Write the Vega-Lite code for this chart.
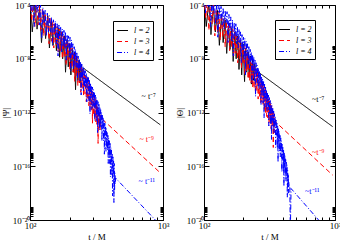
{
"$schema":"https://vega.github.io/schema/vega-lite/v6.json",
"padding":{"left":0,"top":0,"right":0,"bottom":0},
"spacing":4,
"datasets":{
"psi":[
{"l":2,"t":100,"y":2.5e-4},{"l":2,"t":104,"y":1e-6},{"l":2,"t":109,"y":1.3e-4},{"l":2,"t":113,"y":1.6e-6},{"l":2,"t":118,"y":6.3e-5},{"l":2,"t":122,"y":1.6e-7},{"l":2,"t":127,"y":3.2e-5},{"l":2,"t":131,"y":3.2e-7},{"l":2,"t":136,"y":1.6e-5},{"l":2,"t":140,"y":6.3e-8},{"l":2,"t":145,"y":7.9e-6},{"l":2,"t":149,"y":1e-7},{"l":2,"t":154,"y":4e-6},{"l":2,"t":158,"y":4e-8},{"l":2,"t":163,"y":2e-6},{"l":2,"t":167,"y":1.3e-8},{"l":2,"t":172,"y":1e-6},{"l":2,"t":176,"y":1e-8},{"l":2,"t":181,"y":5e-7},{"l":2,"t":185,"y":1e-9},{"l":2,"t":190,"y":2.5e-7},{"l":2,"t":194,"y":2.5e-9},{"l":2,"t":199,"y":1.3e-7},{"l":2,"t":203,"y":6.3e-10},{"l":2,"t":208,"y":6.3e-8},{"l":2,"t":212,"y":1e-9},{"l":2,"t":216,"y":3.2e-8},{"l":2,"t":220,"y":5e-11},{"l":2,"t":224,"y":1.6e-8},{"l":2,"t":229,"y":2.5e-10},{"l":2,"t":234,"y":7.9e-9},{"l":2,"t":238,"y":1.6e-10},{"l":2,"t":243,"y":4e-9},{"l":2,"t":247,"y":3.2e-10},{"l":2,"t":252,"y":2e-9},{"l":2,"t":955,"y":1.2e-13},
{"l":3,"t":100,"y":3.2e-4},{"l":3,"t":103,"y":6.3e-6},{"l":3,"t":106,"y":2e-4},{"l":3,"t":109,"y":2.5e-6},{"l":3,"t":112,"y":1.3e-4},{"l":3,"t":115,"y":3.2e-6},{"l":3,"t":118,"y":7.9e-5},{"l":3,"t":121,"y":1e-6},{"l":3,"t":124,"y":5e-5},{"l":3,"t":127,"y":5e-7},{"l":3,"t":130,"y":2.5e-5},{"l":3,"t":133,"y":6.3e-7},{"l":3,"t":136,"y":1.6e-5},{"l":3,"t":139,"y":1.3e-7},{"l":3,"t":142,"y":1e-5},{"l":3,"t":145,"y":2e-7},{"l":3,"t":148,"y":6.3e-6},{"l":3,"t":151,"y":6.3e-8},{"l":3,"t":154,"y":4e-6},{"l":3,"t":157,"y":1e-7},{"l":3,"t":160,"y":2.5e-6},{"l":3,"t":163,"y":3.2e-8},{"l":3,"t":166,"y":1.6e-6},{"l":3,"t":169,"y":4e-8},{"l":3,"t":172,"y":1e-6},{"l":3,"t":175,"y":1e-8},{"l":3,"t":178,"y":6.3e-7},{"l":3,"t":181,"y":1.3e-8},{"l":3,"t":184,"y":4e-7},{"l":3,"t":187,"y":3.2e-9},{"l":3,"t":190,"y":2.5e-7},{"l":3,"t":193,"y":7.9e-9},{"l":3,"t":196,"y":1.6e-7},{"l":3,"t":199,"y":1.6e-9},{"l":3,"t":202,"y":1e-7},{"l":3,"t":205,"y":2e-9},{"l":3,"t":208,"y":6.3e-8},{"l":3,"t":211,"y":1e-9},{"l":3,"t":214,"y":3.2e-8},{"l":3,"t":217,"y":2e-10},{"l":3,"t":220,"y":2e-8},{"l":3,"t":223,"y":5e-10},{"l":3,"t":226,"y":1.3e-8},{"l":3,"t":229,"y":1e-10},{"l":3,"t":232,"y":6.3e-9},{"l":3,"t":235,"y":1.6e-10},{"l":3,"t":238,"y":4e-9},{"l":3,"t":241,"y":3.2e-11},{"l":3,"t":244,"y":2.5e-9},{"l":3,"t":247,"y":6.3e-11},{"l":3,"t":250,"y":1.6e-9},{"l":3,"t":253,"y":1.6e-11},{"l":3,"t":256,"y":1e-9},{"l":3,"t":259,"y":2.5e-11},{"l":3,"t":262,"y":6.3e-10},{"l":3,"t":265,"y":6.3e-12},{"l":3,"t":268,"y":4e-10},{"l":3,"t":271,"y":1e-11},{"l":3,"t":274,"y":2.5e-10},{"l":3,"t":277,"y":3.2e-12},{"l":3,"t":280,"y":1.3e-10},{"l":3,"t":283,"y":2.5e-12},{"l":3,"t":286,"y":7.9e-11},{"l":3,"t":289,"y":1.6e-12},{"l":3,"t":292,"y":5e-11},{"l":3,"t":295,"y":1.6e-13},{"l":3,"t":298,"y":3.2e-11},{"l":3,"t":301,"y":6.3e-13},{"l":3,"t":304,"y":1.6e-11},{"l":3,"t":307,"y":3.2e-13},{"l":3,"t":310,"y":1e-11},{"l":3,"t":313,"y":2e-13},{"l":3,"t":316,"y":5e-12},{"l":3,"t":319,"y":1.3e-13},{"l":3,"t":322,"y":3.2e-12},{"l":3,"t":325,"y":5e-15},{"l":3,"t":328,"y":1.6e-12},{"l":3,"t":331,"y":1e-13},{"l":3,"t":334,"y":1e-12},{"l":3,"t":337,"y":5e-14},{"l":3,"t":340,"y":6.3e-13},{"l":3,"t":344,"y":3.7e-13},{"l":3,"t":955,"y":3.2e-17},
{"l":4,"t":100,"y":5e-4},{"l":4,"t":102.5,"y":2.5e-5},{"l":4,"t":105,"y":3.2e-4},{"l":4,"t":107.5,"y":2.5e-6},{"l":4,"t":110,"y":2e-4},{"l":4,"t":112.5,"y":2.5e-5},{"l":4,"t":115,"y":1.6e-4},{"l":4,"t":117.5,"y":3.2e-6},{"l":4,"t":120,"y":1e-4},{"l":4,"t":122.5,"y":3.2e-7},{"l":4,"t":125,"y":6.3e-5},{"l":4,"t":127.5,"y":5e-6},{"l":4,"t":130,"y":4e-5},{"l":4,"t":132.5,"y":5e-7},{"l":4,"t":135,"y":2.5e-5},{"l":4,"t":137.5,"y":1e-6},{"l":4,"t":140,"y":1.6e-5},{"l":4,"t":142.5,"y":1e-6},{"l":4,"t":145,"y":1.3e-5},{"l":4,"t":147.5,"y":1e-7},{"l":4,"t":150,"y":7.9e-6},{"l":4,"t":152.5,"y":7.9e-7},{"l":4,"t":155,"y":6.3e-6},{"l":4,"t":157.5,"y":1.3e-7},{"l":4,"t":160,"y":4e-6},{"l":4,"t":162.5,"y":1.6e-8},{"l":4,"t":165,"y":3.2e-6},{"l":4,"t":167.5,"y":3.2e-7},{"l":4,"t":170,"y":2.5e-6},{"l":4,"t":172.5,"y":3.2e-8},{"l":4,"t":175,"y":1.6e-6},{"l":4,"t":177.5,"y":7.9e-8},{"l":4,"t":180,"y":1.3e-6},{"l":4,"t":182.5,"y":6.3e-8},{"l":4,"t":185,"y":1e-6},{"l":4,"t":187.5,"y":7.9e-9},{"l":4,"t":190,"y":6.3e-7},{"l":4,"t":192.5,"y":7.9e-8},{"l":4,"t":195,"y":5e-7},{"l":4,"t":197.5,"y":1.3e-8},{"l":4,"t":200,"y":4e-7},{"l":4,"t":202.5,"y":1.3e-9},{"l":4,"t":205,"y":2.5e-7},{"l":4,"t":207.5,"y":2e-8},{"l":4,"t":210,"y":1.3e-7},{"l":4,"t":212.5,"y":1.6e-9},{"l":4,"t":215,"y":7.9e-8},{"l":4,"t":217.5,"y":3.2e-9},{"l":4,"t":220,"y":5e-8},{"l":4,"t":222.5,"y":2.5e-9},{"l":4,"t":225,"y":3.2e-8},{"l":4,"t":227.5,"y":2.5e-10},{"l":4,"t":230,"y":1.6e-8},{"l":4,"t":232.5,"y":1.6e-9},{"l":4,"t":235,"y":1e-8},{"l":4,"t":237.5,"y":2e-10},{"l":4,"t":240,"y":6.3e-9},{"l":4,"t":242.5,"y":2e-11},{"l":4,"t":245,"y":4e-9},{"l":4,"t":247.5,"y":3.2e-10},{"l":4,"t":250,"y":2.5e-9},{"l":4,"t":252.5,"y":4e-11},{"l":4,"t":255,"y":2e-9},{"l":4,"t":257.5,"y":7.9e-11},{"l":4,"t":260,"y":1.3e-9},{"l":4,"t":262.5,"y":6.3e-11},{"l":4,"t":265,"y":7.9e-10},{"l":4,"t":267.5,"y":6.3e-12},{"l":4,"t":270,"y":5e-10},{"l":4,"t":272.5,"y":6.3e-11},{"l":4,"t":275,"y":4e-10},{"l":4,"t":277.5,"y":7.9e-12},{"l":4,"t":280,"y":2.5e-10},{"l":4,"t":282.5,"y":7.9e-13},{"l":4,"t":285,"y":1.6e-10},{"l":4,"t":287.5,"y":1.3e-11},{"l":4,"t":290,"y":1e-10},{"l":4,"t":292.5,"y":1.6e-12},{"l":4,"t":295,"y":7.9e-11},{"l":4,"t":297.5,"y":3.2e-12},{"l":4,"t":300,"y":5e-11},{"l":4,"t":302.5,"y":2.5e-12},{"l":4,"t":305,"y":3.2e-11},{"l":4,"t":307.5,"y":2.5e-13},{"l":4,"t":310,"y":2e-11},{"l":4,"t":312.5,"y":2e-12},{"l":4,"t":315,"y":1.3e-11},{"l":4,"t":317.5,"y":2.5e-13},{"l":4,"t":320,"y":7.9e-12},{"l":4,"t":322.5,"y":3.2e-14},{"l":4,"t":325,"y":6.3e-12},{"l":4,"t":327.5,"y":5e-13},{"l":4,"t":330,"y":4e-12},{"l":4,"t":332.5,"y":5e-14},{"l":4,"t":335,"y":2.5e-12},{"l":4,"t":337.5,"y":1e-13},{"l":4,"t":340,"y":1.6e-12},{"l":4,"t":342.5,"y":7.9e-14},{"l":4,"t":345,"y":1e-12},{"l":4,"t":347.5,"y":7.9e-15},{"l":4,"t":350,"y":6.3e-13},{"l":4,"t":352.5,"y":6.3e-14},{"l":4,"t":355,"y":4e-13},{"l":4,"t":357.5,"y":7.9e-15},{"l":4,"t":360,"y":2.5e-13},{"l":4,"t":362.5,"y":7.9e-16},{"l":4,"t":365,"y":1.6e-13},{"l":4,"t":367.5,"y":1.3e-14},{"l":4,"t":370,"y":1e-13},{"l":4,"t":372.5,"y":1.3e-15},{"l":4,"t":375,"y":6.3e-14},{"l":4,"t":377.5,"y":2.5e-15},{"l":4,"t":380,"y":3.2e-14},{"l":4,"t":382.5,"y":1.6e-15},{"l":4,"t":385,"y":2e-14},{"l":4,"t":387.5,"y":1.6e-16},{"l":4,"t":390,"y":1.3e-14},{"l":4,"t":392.5,"y":1.3e-15},{"l":4,"t":395,"y":7.9e-15},{"l":4,"t":397.5,"y":1.6e-16},{"l":4,"t":400,"y":5e-15},{"l":4,"t":402.5,"y":1.6e-17},{"l":4,"t":405,"y":2.5e-15},{"l":4,"t":407.5,"y":2e-16},{"l":4,"t":410,"y":1.6e-15},{"l":4,"t":412.5,"y":2e-17},{"l":4,"t":415,"y":7.9e-16},{"l":4,"t":417.5,"y":6.3e-19},{"l":4,"t":420,"y":5e-16},{"l":4,"t":422.5,"y":2.5e-17},{"l":4,"t":425,"y":2.5e-16},{"l":4,"t":427.5,"y":2e-19},{"l":4,"t":430,"y":1.6e-16},{"l":4,"t":432.5,"y":1.6e-18},{"l":4,"t":435,"y":3.2e-17},{"l":4,"t":438,"y":5e-18},{"l":4,"t":441,"y":1.3e-17},{"l":4,"t":1000,"y":2.5e-21}
],
"psiTxt":[{"l":2,"t":690,"y":1.45e-11,"s":"~ t⁻⁷"},{"l":3,"t":665,"y":9e-15,"s":"~ t⁻⁹"},{"l":4,"t":655,"y":6.8e-18,"s":"~ t⁻¹¹"}],
"theta":[
{"l":2,"t":100,"y":3.2e-4},{"l":2,"t":104,"y":2.5e-6},{"l":2,"t":109,"y":1.6e-4},{"l":2,"t":113,"y":6.3e-7},{"l":2,"t":118,"y":7.9e-5},{"l":2,"t":122,"y":1e-6},{"l":2,"t":127,"y":4e-5},{"l":2,"t":131,"y":1e-7},{"l":2,"t":136,"y":1.6e-5},{"l":2,"t":140,"y":1.6e-7},{"l":2,"t":145,"y":7.9e-6},{"l":2,"t":149,"y":2.5e-8},{"l":2,"t":154,"y":4e-6},{"l":2,"t":158,"y":5e-8},{"l":2,"t":163,"y":2e-6},{"l":2,"t":167,"y":6.3e-9},{"l":2,"t":172,"y":1e-6},{"l":2,"t":176,"y":1e-8},{"l":2,"t":181,"y":5e-7},{"l":2,"t":185,"y":1.6e-9},{"l":2,"t":190,"y":2.5e-7},{"l":2,"t":194,"y":6.3e-10},{"l":2,"t":199,"y":1.3e-7},{"l":2,"t":204,"y":2e-10},{"l":2,"t":208,"y":6.3e-8},{"l":2,"t":212,"y":1e-9},{"l":2,"t":217,"y":3.2e-8},{"l":2,"t":221,"y":4e-10},{"l":2,"t":226,"y":1.6e-8},{"l":2,"t":230,"y":1.3e-10},{"l":2,"t":235,"y":7.9e-9},{"l":2,"t":239,"y":2.5e-10},{"l":2,"t":244,"y":4e-9},{"l":2,"t":247,"y":1.45e-9},{"l":2,"t":959,"y":8.9e-14},
{"l":3,"t":100,"y":4e-4},{"l":3,"t":103,"y":1e-5},{"l":3,"t":106,"y":2.5e-4},{"l":3,"t":109,"y":1.3e-6},{"l":3,"t":112,"y":1.6e-4},{"l":3,"t":115,"y":4e-6},{"l":3,"t":118,"y":1e-4},{"l":3,"t":121,"y":5e-7},{"l":3,"t":124,"y":5e-5},{"l":3,"t":127,"y":1e-6},{"l":3,"t":130,"y":3.2e-5},{"l":3,"t":133,"y":2.5e-7},{"l":3,"t":136,"y":2e-5},{"l":3,"t":139,"y":4e-7},{"l":3,"t":142,"y":1e-5},{"l":3,"t":145,"y":7.9e-8},{"l":3,"t":148,"y":6.3e-6},{"l":3,"t":151,"y":1.6e-7},{"l":3,"t":154,"y":4e-6},{"l":3,"t":157,"y":4e-8},{"l":3,"t":160,"y":2.5e-6},{"l":3,"t":163,"y":6.3e-8},{"l":3,"t":166,"y":1.6e-6},{"l":3,"t":169,"y":1.6e-8},{"l":3,"t":172,"y":1e-6},{"l":3,"t":175,"y":2.5e-8},{"l":3,"t":178,"y":6.3e-7},{"l":3,"t":181,"y":5e-9},{"l":3,"t":184,"y":4e-7},{"l":3,"t":187,"y":1e-8},{"l":3,"t":190,"y":2.5e-7},{"l":3,"t":193,"y":2e-9},{"l":3,"t":196,"y":1.6e-7},{"l":3,"t":199,"y":4e-9},{"l":3,"t":202,"y":1e-7},{"l":3,"t":205,"y":6.3e-10},{"l":3,"t":208,"y":6.3e-8},{"l":3,"t":211,"y":1.3e-9},{"l":3,"t":214,"y":3.2e-8},{"l":3,"t":217,"y":3.2e-10},{"l":3,"t":220,"y":2e-8},{"l":3,"t":223,"y":2.5e-10},{"l":3,"t":226,"y":1.3e-8},{"l":3,"t":229,"y":1.6e-10},{"l":3,"t":232,"y":6.3e-9},{"l":3,"t":235,"y":7.9e-11},{"l":3,"t":238,"y":4e-9},{"l":3,"t":241,"y":6.3e-11},{"l":3,"t":244,"y":2.5e-9},{"l":3,"t":247,"y":2.5e-11},{"l":3,"t":250,"y":1.6e-9},{"l":3,"t":253,"y":4e-11},{"l":3,"t":256,"y":1e-9},{"l":3,"t":259,"y":1e-11},{"l":3,"t":262,"y":6.3e-10},{"l":3,"t":265,"y":1.6e-11},{"l":3,"t":268,"y":4e-10},{"l":3,"t":271,"y":5e-12},{"l":3,"t":274,"y":2.5e-10},{"l":3,"t":277,"y":6.3e-12},{"l":3,"t":280,"y":1.6e-10},{"l":3,"t":283,"y":4e-12},{"l":3,"t":286,"y":1e-10},{"l":3,"t":289,"y":1.3e-12},{"l":3,"t":292,"y":6.3e-11},{"l":3,"t":295,"y":1e-12},{"l":3,"t":298,"y":4e-11},{"l":3,"t":301,"y":5e-13},{"l":3,"t":304,"y":2.5e-11},{"l":3,"t":307,"y":4e-13},{"l":3,"t":310,"y":1.3e-11},{"l":3,"t":313,"y":1.6e-13},{"l":3,"t":316,"y":7.9e-12},{"l":3,"t":319,"y":2e-13},{"l":3,"t":322,"y":5e-12},{"l":3,"t":325,"y":6.3e-14},{"l":3,"t":328,"y":3.2e-12},{"l":3,"t":331,"y":1e-13},{"l":3,"t":334,"y":1.6e-12},{"l":3,"t":338,"y":2.5e-15},{"l":3,"t":341,"y":1e-12},{"l":3,"t":344,"y":3.2e-14},{"l":3,"t":347,"y":3.5e-13},{"l":3,"t":350,"y":2.1e-13},{"l":3,"t":959,"y":2.2e-17},
{"l":4,"t":100,"y":1e-3},{"l":4,"t":102.5,"y":2.5e-5},{"l":4,"t":105,"y":6.3e-4},{"l":4,"t":107.5,"y":7.9e-5},{"l":4,"t":110,"y":5e-4},{"l":4,"t":112.5,"y":2.5e-6},{"l":4,"t":115,"y":3.2e-4},{"l":4,"t":117.5,"y":2.5e-5},{"l":4,"t":120,"y":2.5e-4},{"l":4,"t":122.5,"y":4e-6},{"l":4,"t":125,"y":1.6e-4},{"l":4,"t":127.5,"y":4e-7},{"l":4,"t":130,"y":1.3e-4},{"l":4,"t":132.5,"y":1e-5},{"l":4,"t":135,"y":7.9e-5},{"l":4,"t":137.5,"y":3.2e-6},{"l":4,"t":140,"y":6.3e-5},{"l":4,"t":142.5,"y":1.6e-6},{"l":4,"t":145,"y":4e-5},{"l":4,"t":147.5,"y":5e-6},{"l":4,"t":150,"y":3.2e-5},{"l":4,"t":152.5,"y":1.6e-7},{"l":4,"t":155,"y":2e-5},{"l":4,"t":157.5,"y":1.3e-6},{"l":4,"t":160,"y":1.3e-5},{"l":4,"t":162.5,"y":2e-7},{"l":4,"t":165,"y":7.9e-6},{"l":4,"t":167.5,"y":1.6e-8},{"l":4,"t":170,"y":5e-6},{"l":4,"t":172.5,"y":5e-7},{"l":4,"t":175,"y":4e-6},{"l":4,"t":177.5,"y":1.3e-7},{"l":4,"t":180,"y":2.5e-6},{"l":4,"t":182.5,"y":6.3e-8},{"l":4,"t":185,"y":1.6e-6},{"l":4,"t":187.5,"y":1.6e-7},{"l":4,"t":190,"y":1e-6},{"l":4,"t":192.5,"y":5e-9},{"l":4,"t":195,"y":6.3e-7},{"l":4,"t":197.5,"y":4e-8},{"l":4,"t":200,"y":4e-7},{"l":4,"t":202.5,"y":7.9e-9},{"l":4,"t":205,"y":3.2e-7},{"l":4,"t":207.5,"y":6.3e-10},{"l":4,"t":210,"y":2e-7},{"l":4,"t":212.5,"y":1.6e-8},{"l":4,"t":215,"y":1.3e-7},{"l":4,"t":217.5,"y":4e-9},{"l":4,"t":220,"y":7.9e-8},{"l":4,"t":222.5,"y":2e-9},{"l":4,"t":225,"y":5e-8},{"l":4,"t":227.5,"y":5e-9},{"l":4,"t":230,"y":3.2e-8},{"l":4,"t":232.5,"y":1.6e-10},{"l":4,"t":235,"y":2e-8},{"l":4,"t":237.5,"y":1.3e-9},{"l":4,"t":240,"y":1.3e-8},{"l":4,"t":242.5,"y":2e-10},{"l":4,"t":245,"y":7.9e-9},{"l":4,"t":247.5,"y":1.6e-11},{"l":4,"t":250,"y":5e-9},{"l":4,"t":252.5,"y":4e-10},{"l":4,"t":255,"y":3.2e-9},{"l":4,"t":257.5,"y":1e-10},{"l":4,"t":260,"y":2e-9},{"l":4,"t":262.5,"y":5e-11},{"l":4,"t":265,"y":1.3e-9},{"l":4,"t":267.5,"y":1.3e-10},{"l":4,"t":270,"y":7.9e-10},{"l":4,"t":272.5,"y":4e-12},{"l":4,"t":275,"y":5e-10},{"l":4,"t":277.5,"y":3.2e-11},{"l":4,"t":280,"y":3.2e-10},{"l":4,"t":282.5,"y":5e-12},{"l":4,"t":285,"y":2e-10},{"l":4,"t":287.5,"y":4e-13},{"l":4,"t":290,"y":1.3e-10},{"l":4,"t":292.5,"y":1e-11},{"l":4,"t":295,"y":7.9e-11},{"l":4,"t":297.5,"y":2.5e-12},{"l":4,"t":300,"y":5e-11},{"l":4,"t":302.5,"y":1.3e-12},{"l":4,"t":305,"y":3.2e-11},{"l":4,"t":307.5,"y":3.2e-12},{"l":4,"t":310,"y":2e-11},{"l":4,"t":312.5,"y":1e-13},{"l":4,"t":315,"y":1.3e-11},{"l":4,"t":317.5,"y":7.9e-13},{"l":4,"t":320,"y":7.9e-12},{"l":4,"t":322.5,"y":1.3e-13},{"l":4,"t":325,"y":5e-12},{"l":4,"t":327.5,"y":1e-14},{"l":4,"t":330,"y":3.2e-12},{"l":4,"t":332.5,"y":2.5e-13},{"l":4,"t":335,"y":2e-12},{"l":4,"t":337.5,"y":6.3e-14},{"l":4,"t":340,"y":1.3e-12},{"l":4,"t":342.5,"y":3.2e-14},{"l":4,"t":345,"y":7.9e-13},{"l":4,"t":347.5,"y":7.9e-14},{"l":4,"t":350,"y":5e-13},{"l":4,"t":352.5,"y":2.5e-15},{"l":4,"t":355,"y":3.2e-13},{"l":4,"t":357.5,"y":2e-14},{"l":4,"t":360,"y":1.6e-13},{"l":4,"t":362.5,"y":2.5e-15},{"l":4,"t":365,"y":1e-13},{"l":4,"t":367.5,"y":2e-16},{"l":4,"t":370,"y":6.3e-14},{"l":4,"t":372.5,"y":5e-15},{"l":4,"t":375,"y":4e-14},{"l":4,"t":377.5,"y":1.3e-15},{"l":4,"t":380,"y":2e-14},{"l":4,"t":382.5,"y":5e-16},{"l":4,"t":385,"y":1.3e-14},{"l":4,"t":387.5,"y":1.3e-15},{"l":4,"t":390,"y":7.9e-15},{"l":4,"t":392.5,"y":4e-17},{"l":4,"t":395,"y":5e-15},{"l":4,"t":397.5,"y":3.2e-16},{"l":4,"t":400,"y":2.5e-15},{"l":4,"t":402.5,"y":4e-17},{"l":4,"t":405,"y":1.6e-15},{"l":4,"t":407.5,"y":3.2e-18},{"l":4,"t":410,"y":1e-15},{"l":4,"t":412.5,"y":7.9e-17},{"l":4,"t":415,"y":6.3e-16},{"l":4,"t":417.5,"y":2e-17},{"l":4,"t":420,"y":3.2e-16},{"l":4,"t":422.5,"y":7.9e-18},{"l":4,"t":425,"y":2e-16},{"l":4,"t":427.5,"y":2e-17},{"l":4,"t":430,"y":1.3e-16},{"l":4,"t":432.5,"y":5e-19},{"l":4,"t":435,"y":5e-17},{"l":4,"t":437.5,"y":3.2e-18},{"l":4,"t":440,"y":2.5e-17},{"l":4,"t":442.5,"y":1e-18},{"l":4,"t":445,"y":6.3e-18},{"l":4,"t":447,"y":3.2e-18},{"l":4,"t":452,"y":2.8e-18},{"l":4,"t":456,"y":1e-21},{"l":4,"t":462,"y":2.2e-18},{"l":4,"t":1000,"y":4e-22}
],
"thetaTxt":[{"l":2,"t":667,"y":8.5e-12,"s":"~t⁻⁷"},{"l":3,"t":667,"y":1e-15,"s":"~t⁻⁹"},{"l":4,"t":590,"y":1.3e-18,"s":"~t⁻¹¹"}]
},
"hconcat":[
{"width":133,"height":215,
 "resolve":{"scale":{"x":"independent","y":"independent"}},
 "layer":[
  {"data":{"name":"psi"},"mark":{"type":"line","clip":true,"strokeWidth":1},
   "encoding":{
    "x":{"field":"t","type":"quantitative","scale":{"type":"log","domain":[100,1000]},
     "axis":{"orient":"bottom","values":[100,200,300,400,500,600,700,800,900,1000],"labelExpr":"datum.value==100?'10²':datum.value==1000?'10³':''","title":"t / M","tickSize":{"condition":{"test":"datum.value==100||datum.value==1000","value":-5},"value":-3},"labelPadding":6,"titlePadding":0}},
    "y":{"field":"y","type":"quantitative","scale":{"type":"log","domain":[1e-20,1e-4]},
     "axis":{"orient":"left","values":[1e-20,2e-20,3e-20,4e-20,5e-20,6e-20,7e-20,8e-20,9e-20,1e-16,2e-16,3e-16,4e-16,5e-16,6e-16,7e-16,8e-16,9e-16,1e-12,2e-12,3e-12,4e-12,5e-12,6e-12,7e-12,8e-12,9e-12,1e-8,2e-8,3e-8,4e-8,5e-8,6e-8,7e-8,8e-8,9e-8,1e-4],"labelExpr":"datum.value==1e-4?'10⁻⁴':datum.value==1e-8?'10⁻⁸':datum.value==1e-12?'10⁻¹²':datum.value==1e-16?'10⁻¹⁶':datum.value==1e-20?'10⁻²⁰':''","title":"|Ψ|","tickSize":{"condition":{"test":"datum.value==1e-4||datum.value==1e-8||datum.value==1e-12||datum.value==1e-16||datum.value==1e-20","value":-5},"value":-3},"labelPadding":5,"titlePadding":2}},
    "color":{"field":"l","type":"nominal","scale":{"domain":[2,3,4],"range":["#000000","#ff0000","#0000ff"]},
     "legend":{"orient":"none","legendX":83,"legendY":16,"title":null,"labelExpr":"'l = '+datum.label"}},
    "strokeDash":{"field":"l","type":"nominal","scale":{"domain":[2,3,4],"range":[[1,0],[5,3],[5,2,1,2]]},
     "legend":{"orient":"none","legendX":83,"legendY":16,"title":null,"labelExpr":"'l = '+datum.label"}}
   }},
  {"data":{"name":"psiTxt"},"mark":{"type":"text","align":"left","baseline":"middle","fontSize":8,"font":"Liberation Serif"},
   "encoding":{
    "x":{"field":"t","type":"quantitative","scale":{"type":"log","domain":[100,1000]},
     "axis":{"orient":"top","values":[100,200,300,400,500,600,700,800,900,1000],"labels":false,"title":null,"tickSize":{"condition":{"test":"datum.value==100||datum.value==1000","value":-5},"value":-3}}},
    "y":{"field":"y","type":"quantitative","scale":{"type":"log","domain":[1e-20,1e-4]},
     "axis":{"orient":"right","values":[1e-20,2e-20,3e-20,4e-20,5e-20,6e-20,7e-20,8e-20,9e-20,1e-16,2e-16,3e-16,4e-16,5e-16,6e-16,7e-16,8e-16,9e-16,1e-12,2e-12,3e-12,4e-12,5e-12,6e-12,7e-12,8e-12,9e-12,1e-8,2e-8,3e-8,4e-8,5e-8,6e-8,7e-8,8e-8,9e-8,1e-4],"labels":false,"title":null,"tickSize":{"condition":{"test":"datum.value==1e-4||datum.value==1e-8||datum.value==1e-12||datum.value==1e-16||datum.value==1e-20","value":-5},"value":-3}}},
    "text":{"field":"s"},
    "color":{"field":"l","type":"nominal","scale":{"domain":[2,3,4],"range":["#000000","#ff0000","#0000ff"]},"legend":null}
   }}
 ]},
{"width":131,"height":215,
 "resolve":{"scale":{"x":"independent","y":"independent"}},
 "layer":[
  {"data":{"name":"theta"},"mark":{"type":"line","clip":true,"strokeWidth":1},
   "encoding":{
    "x":{"field":"t","type":"quantitative","scale":{"type":"log","domain":[100,1000]},
     "axis":{"orient":"bottom","values":[100,200,300,400,500,600,700,800,900,1000],"labelExpr":"datum.value==100?'10²':datum.value==1000?'10³':''","title":"t / M","tickSize":{"condition":{"test":"datum.value==100||datum.value==1000","value":-5},"value":-3},"labelPadding":6,"titlePadding":0}},
    "y":{"field":"y","type":"quantitative","scale":{"type":"log","domain":[1e-20,1e-4]},
     "axis":{"orient":"left","values":[1e-20,2e-20,3e-20,4e-20,5e-20,6e-20,7e-20,8e-20,9e-20,1e-16,2e-16,3e-16,4e-16,5e-16,6e-16,7e-16,8e-16,9e-16,1e-12,2e-12,3e-12,4e-12,5e-12,6e-12,7e-12,8e-12,9e-12,1e-8,2e-8,3e-8,4e-8,5e-8,6e-8,7e-8,8e-8,9e-8,1e-4],"labelExpr":"datum.value==1e-4?'10⁻⁴':datum.value==1e-8?'10⁻⁸':datum.value==1e-12?'10⁻¹²':datum.value==1e-16?'10⁻¹⁶':datum.value==1e-20?'10⁻²⁰':''","title":"|Θ|","tickSize":{"condition":{"test":"datum.value==1e-4||datum.value==1e-8||datum.value==1e-12||datum.value==1e-16||datum.value==1e-20","value":-5},"value":-3},"labelPadding":5,"titlePadding":2}},
    "color":{"field":"l","type":"nominal","scale":{"domain":[2,3,4],"range":["#000000","#ff0000","#0000ff"]},
     "legend":{"orient":"none","legendX":71,"legendY":15,"title":null,"labelExpr":"'l = '+datum.label"}},
    "strokeDash":{"field":"l","type":"nominal","scale":{"domain":[2,3,4],"range":[[1,0],[5,3],[5,2,1,2]]},
     "legend":{"orient":"none","legendX":71,"legendY":15,"title":null,"labelExpr":"'l = '+datum.label"}}
   }},
  {"data":{"name":"thetaTxt"},"mark":{"type":"text","align":"left","baseline":"middle","fontSize":8,"font":"Liberation Serif"},
   "encoding":{
    "x":{"field":"t","type":"quantitative","scale":{"type":"log","domain":[100,1000]},
     "axis":{"orient":"top","values":[100,200,300,400,500,600,700,800,900,1000],"labels":false,"title":null,"tickSize":{"condition":{"test":"datum.value==100||datum.value==1000","value":-5},"value":-3}}},
    "y":{"field":"y","type":"quantitative","scale":{"type":"log","domain":[1e-20,1e-4]},
     "axis":{"orient":"right","values":[1e-20,2e-20,3e-20,4e-20,5e-20,6e-20,7e-20,8e-20,9e-20,1e-16,2e-16,3e-16,4e-16,5e-16,6e-16,7e-16,8e-16,9e-16,1e-12,2e-12,3e-12,4e-12,5e-12,6e-12,7e-12,8e-12,9e-12,1e-8,2e-8,3e-8,4e-8,5e-8,6e-8,7e-8,8e-8,9e-8,1e-4],"labels":false,"title":null,"tickSize":{"condition":{"test":"datum.value==1e-4||datum.value==1e-8||datum.value==1e-12||datum.value==1e-16||datum.value==1e-20","value":-5},"value":-3}}},
    "text":{"field":"s"},
    "color":{"field":"l","type":"nominal","scale":{"domain":[2,3,4],"range":["#000000","#ff0000","#0000ff"]},"legend":null}
   }}
 ]}
],
"resolve":{"scale":{"color":"independent","strokeDash":"independent"},"legend":{"color":"independent","strokeDash":"independent"}},
"config":{
 "view":{"stroke":"#000000","strokeWidth":1},
 "axis":{"domain":false,"grid":false,"labelFont":"Liberation Serif","titleFont":"Liberation Serif","labelFontSize":9,"titleFontSize":9,"titleFontWeight":"normal","labelColor":"#000000","titleColor":"#000000","tickColor":"#000000","labelFlush":false,"labelOverlap":false,"tickWidth":1},
 "legend":{"fillColor":"#ffffff","strokeColor":"#000000","padding":3,"symbolType":"stroke","symbolSize":120,"symbolStrokeWidth":1.2,"labelFont":"Liberation Serif","labelFontSize":8,"labelFontStyle":"italic","rowPadding":0,"labelOffset":5,"cornerRadius":0}
}
}
